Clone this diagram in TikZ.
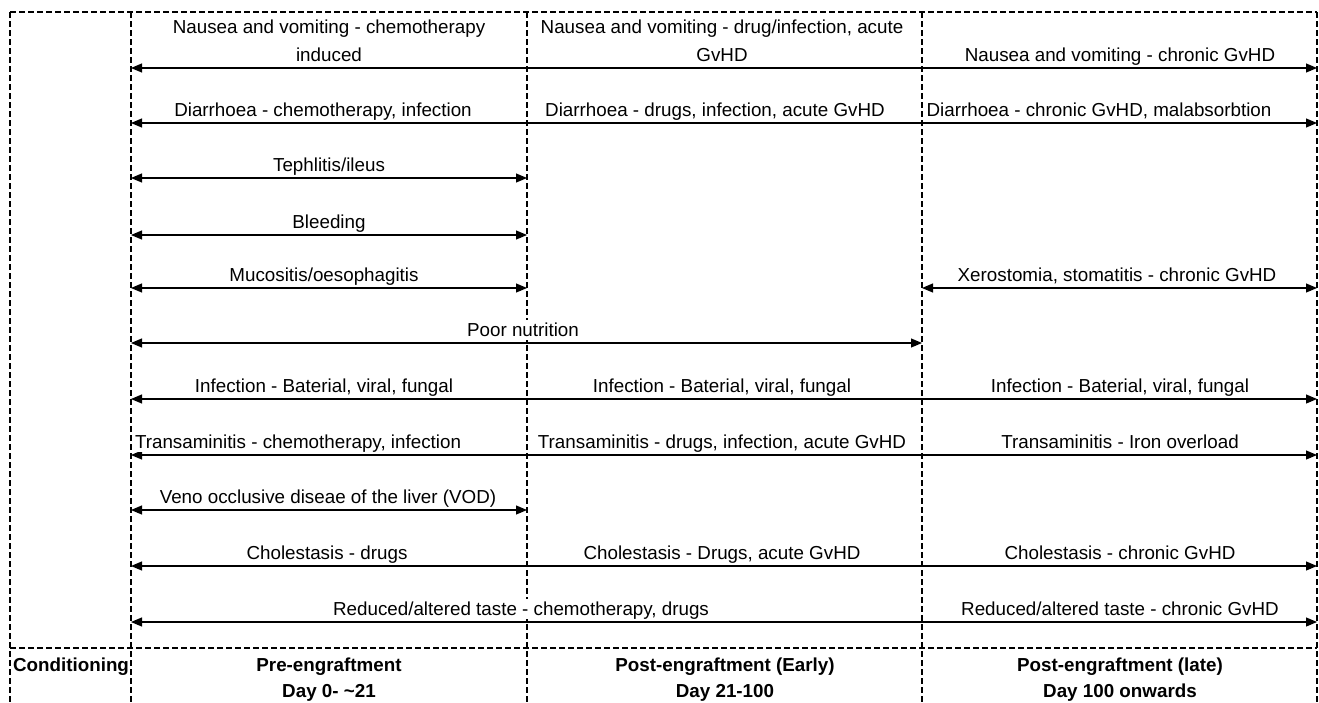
\documentclass[tikz,border=0pt]{standalone}
\usepackage{fontspec}
\setmainfont{Liberation Sans}
\usetikzlibrary{arrows.meta}

\begin{document}
\begin{tikzpicture}[x=1pt, y=-1pt, >={Triangle[length=11pt,width=9pt]},
  grid/.style={line width=1.4pt, dash pattern=on 6pt off 3pt},
  arr/.style={<->, line width=1.1pt},
  lbl/.style={anchor=south, fill=white, inner xsep=1pt, inner ysep=3pt, text depth=0pt, align=center, font=\fontsize{18.8}{28}\selectfont},
  phase/.style={anchor=south, inner sep=0pt, text depth=0pt, align=center, font=\fontsize{18.8}{26}\selectfont\bfseries}]
\useasboundingbox (0,0) rectangle (1319,702);

% column edges along the top
\coordinate (F) at (10,12);
\coordinate (L) at (131,12);
\coordinate (M1) at (527,12);
\coordinate (M2) at (922,12);
\coordinate (R) at (1317,12);
\coordinate (hdr) at (0,648);
\coordinate (bot) at (0,702);

% heights of the arrows
\foreach \row/\y in {nv/68, dia/123, tep/178, ble/235, muc/288, poor/343, inf/399, tra/455, vod/510, cho/566, red/622}
  \coordinate (\row) at (0,\y);

% frame and period dividers
\foreach \c in {F, L, M1, M2, R}
  \draw[grid] (\c) -- (\c |- bot);
\draw[grid] (F) -- (R);
\draw[grid] (F |- hdr) -- (R |- hdr);

% complications over time
\draw[arr] (L |- nv) -- (R |- nv);
\draw[arr] (L |- dia) -- (R |- dia);
\draw[arr] (L |- tep) -- (M1 |- tep);
\draw[arr] (L |- ble) -- (M1 |- ble);
\draw[arr] (L |- muc) -- (M1 |- muc);
\draw[arr] (M2 |- muc) -- (R |- muc);
\draw[arr] (L |- poor) -- (M2 |- poor);
\draw[arr] (L |- inf) -- (R |- inf);
\draw[arr] (L |- tra) -- (R |- tra);
\draw[arr] (L |- vod) -- (M1 |- vod);
\draw[arr] (L |- cho) -- (R |- cho);
\draw[arr] (L |- red) -- (R |- red);

\node[lbl] (nv1) at (329,65) {Nausea and vomiting - chemotherapy\\induced};
\node[lbl] (nv2) at (722,65) {Nausea and vomiting - drug/infection, acute\\GvHD};
\node[lbl] (nv3) at (1120,65) {Nausea and vomiting - chronic GvHD};
\node[lbl] (dia1) at (323,120) {Diarrhoea - chemotherapy, infection};
\node[lbl] (dia2) at (715,120) {Diarrhoea - drugs, infection, acute GvHD};
\node[lbl] (dia3) at (1099,120) {Diarrhoea - chronic GvHD, malabsorbtion};
\node[lbl] (tep1) at (329,175) {Tephlitis/ileus};
\node[lbl] (ble1) at (329,232) {Bleeding};
\node[lbl] (muc1) at (324,285) {Mucositis/oesophagitis};
\node[lbl] (muc3) at (1117,285) {Xerostomia, stomatitis - chronic GvHD};
\node[lbl] (poor1) at (523,340) {Poor nutrition};
\node[lbl] (inf1) at (324,396) {Infection - Baterial, viral, fungal};
\node[lbl] (inf2) at (722,396) {Infection - Baterial, viral, fungal};
\node[lbl] (inf3) at (1120,396) {Infection - Baterial, viral, fungal};
\node[lbl] (tra1) at (298,452) {Transaminitis - chemotherapy, infection};
\node[lbl] (tra2) at (722,452) {Transaminitis - drugs, infection, acute GvHD};
\node[lbl] (tra3) at (1120,452) {Transaminitis - Iron overload};
\node[lbl] (vod1) at (328,507) {Veno occlusive diseae of the liver (VOD)};
\node[lbl] (cho1) at (327,563) {Cholestasis - drugs};
\node[lbl] (cho2) at (722,563) {Cholestasis - Drugs, acute GvHD};
\node[lbl] (cho3) at (1120,563) {Cholestasis - chronic GvHD};
\node[lbl] (red1) at (521,619) {Reduced/altered taste - chemotherapy, drugs};
\node[lbl] (red3) at (1120,619) {Reduced/altered taste - chronic GvHD};

% period headings
\node[phase] (cond) at (71,672) {Conditioning};
\node[phase] (pre) at (329,698) {Pre-engraftment\\Day 0- \textasciitilde21};
\node[phase] (early) at (725,698) {Post-engraftment (Early)\\Day 21-100};
\node[phase] (late) at (1120,698) {Post-engraftment (late)\\Day 100 onwards};
\end{tikzpicture}
\end{document}
